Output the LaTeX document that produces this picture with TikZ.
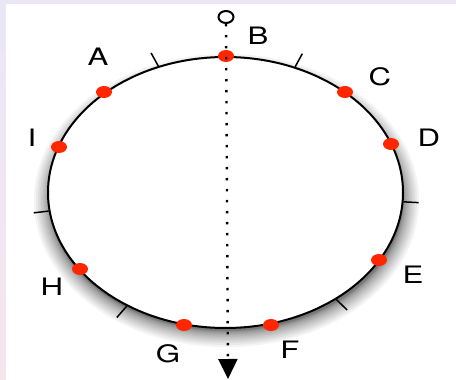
\documentclass[tikz,border=0pt]{standalone}
\usepackage{fontspec}
\setmainfont{TeX Gyre Heros}
\usetikzlibrary{arrows.meta,shapes.geometric}

\definecolor{dotred}{RGB}{255,38,0}
\definecolor{frame}{RGB}{234,230,246}
\definecolor{framepink}{RGB}{245,230,238}

\tikzset{
    spot/.style={ellipse, fill=dotred, inner sep=0pt, minimum width=16pt, minimum height=12pt},
    lbl/.style={font=\fontsize{24}{28}\selectfont, inner sep=0pt},
    ring/.style={ellipse, draw, fill=white, line width=2pt, minimum width=355pt, minimum height=271pt},
    track/.style={line width=2.4pt, dash pattern=on 2.4pt off 8.6pt, -{Triangle[length=20pt,width=19pt]}},
}

\begin{document}
\begin{tikzpicture}[x=1pt, y=-1pt]
    \useasboundingbox (0,0) rectangle (456,380);
    % slide frame
    \fill[frame] (0,0) rectangle (456,380);
    \shade[top color=frame, bottom color=framepink] (0,0) rectangle (6,380);
    \fill[white] (6,4) rectangle (456,380);

    % soft shadow under the ring, denser next to the edge
    \foreach \k in {1,...,16} {
        \fill[black, opacity=0.045] (226.5,200.5) ellipse [x radius={176pt+0.065pt*\k*\k}, y radius={130pt+0.065pt*\k*\k}];
    }
    \node[ring] (ring) at (225.5,192.5) {};

    % tick marks round the ring
    \foreach \a in {118.8, 61.5, -3, 186.7, 229, 316} {
        \draw[line width=1.5pt] (ring.\a) -- ([shift={(\a:15pt)}]ring.\a);
    }

    % positions on the ring
    \foreach \n/\x/\y in {B/226/56, A/104/92, C/345/92, I/59/147, D/391/144,
                          E/379/260, H/80/269, G/184/325, F/271/325} {
        \node[spot] (p\n) at (\x,\y) {};
    }
    \foreach \n/\x/\y in {B/258/36, A/98/57, C/380/77, I/32/138, D/429/138,
                          E/413/275, H/52/287, G/168/354, F/290/350} {
        \node[lbl] (l\n) at (\x,\y) {\scalebox{1.3}[1]{\n}};
    }

    % the cut through the ring
    \node[ellipse, draw, line width=2pt, minimum width=15pt, minimum height=12pt, inner sep=0pt] (start) at (226,17) {};
    \coordinate (end) at (228,379);
    \draw[track] (start) -- (end);
\end{tikzpicture}
\end{document}
